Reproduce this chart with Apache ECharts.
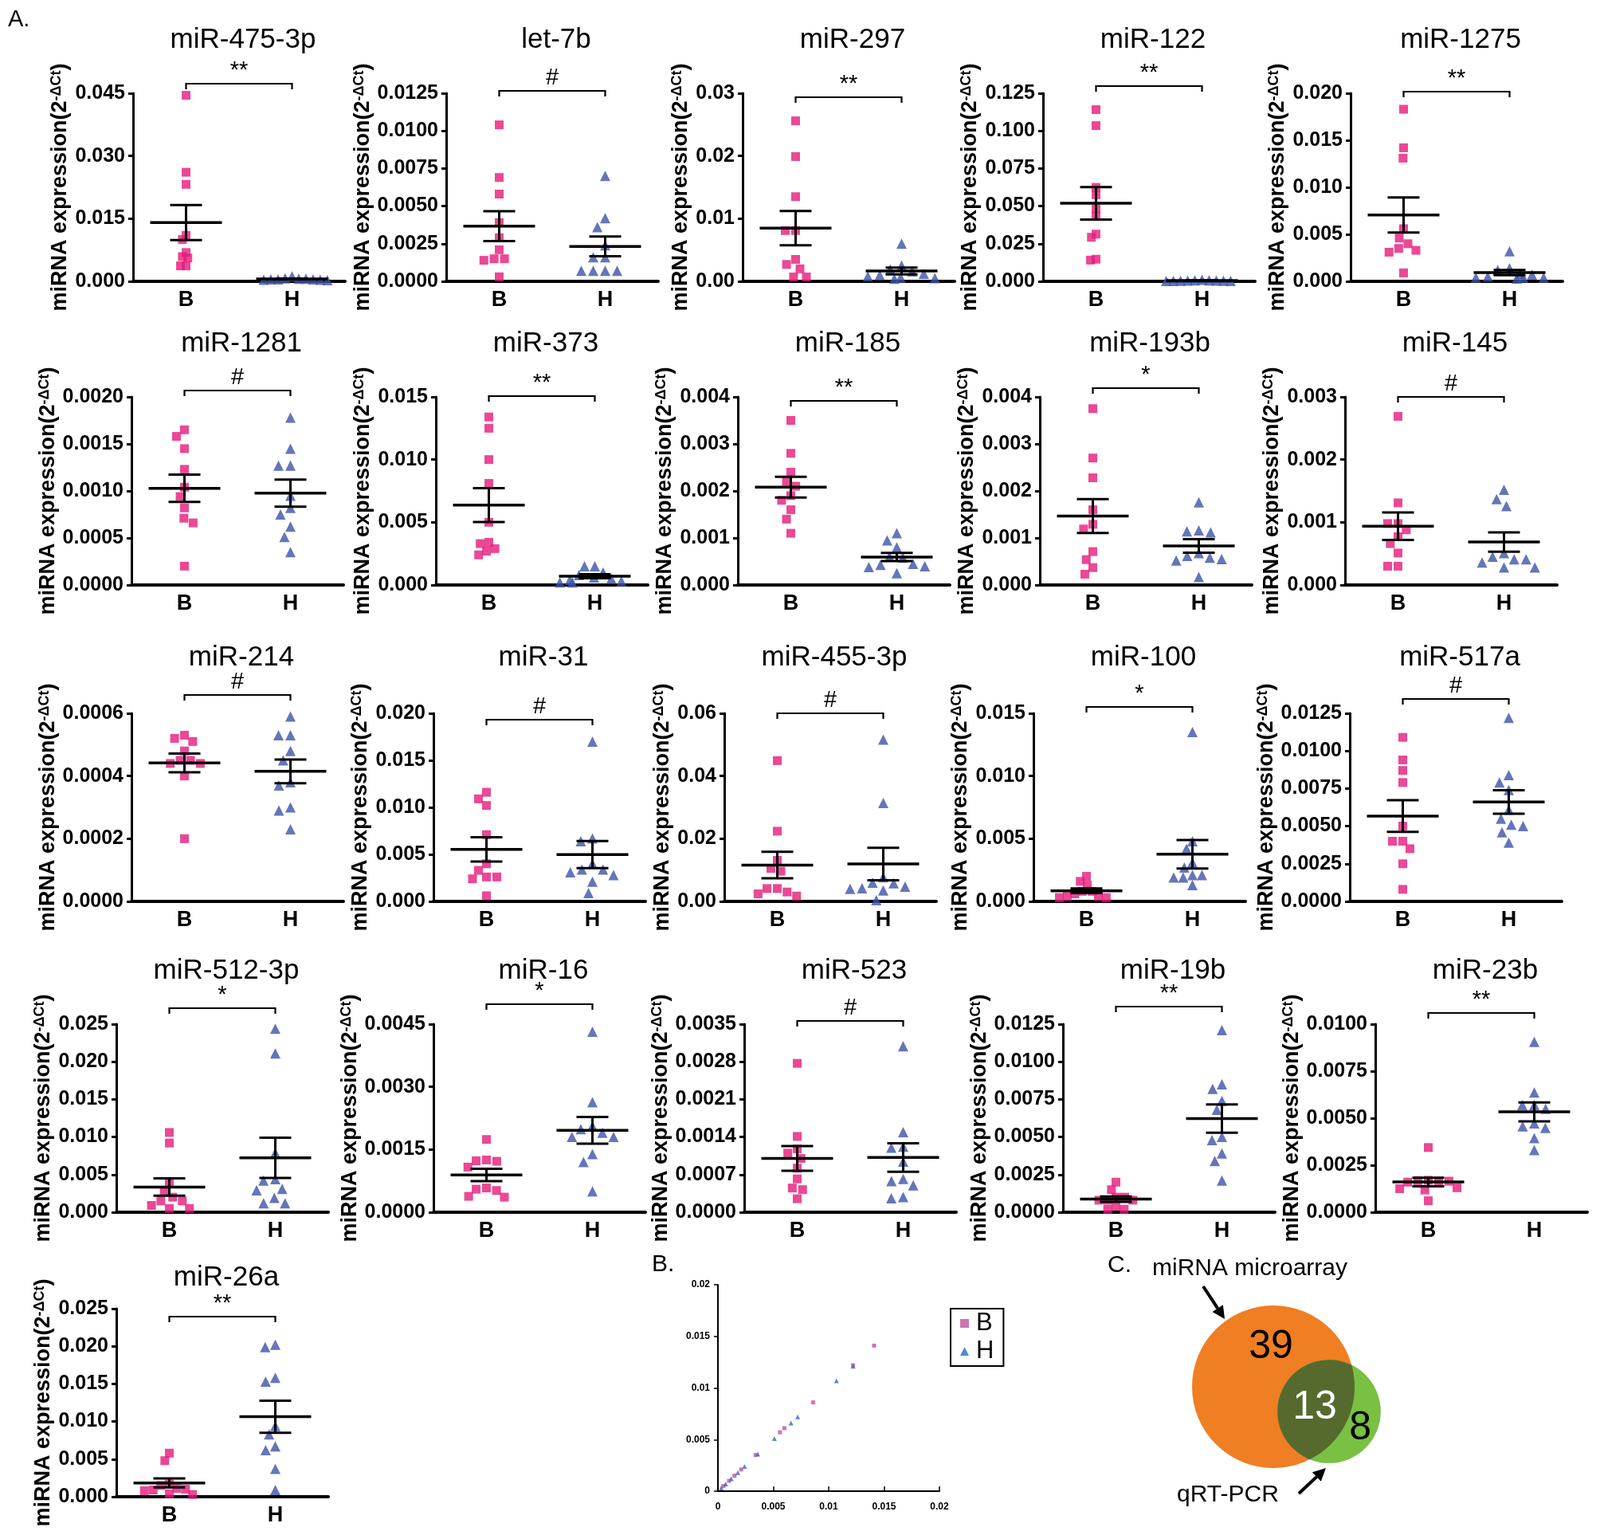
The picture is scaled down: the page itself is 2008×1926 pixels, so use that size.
<!DOCTYPE html>
<html>
<head>
<meta charset="utf-8">
<script src="https://cdn.jsdelivr.net/npm/echarts@6.0.0/dist/echarts.min.js"></script>
<style>
html, body { margin: 0; padding: 0; background: #fff; }
#container { width: 2008px; height: 1926px; }
</style>
</head>
<body>
<div id="container"></div>
<script>
// ---- data ----
const titles = ['miR-475-3p', 'let-7b', 'miR-297', 'miR-122', 'miR-1275',
    'miR-1281', 'miR-373', 'miR-185', 'miR-193b', 'miR-145',
    'miR-214', 'miR-31', 'miR-455-3p', 'miR-100', 'miR-517a',
    'miR-512-3p', 'miR-16', 'miR-523', 'miR-19b', 'miR-23b',
    'miR-26a'];
const groups = ['B', 'H'];
const signif = ['**', '#', '**', '**', '**',
    '#', '**', '**', '*', '#',
    '#', '#', '#', '*', '#',
    '*', '*', '#', '**', '**',
    '**'];
const yMax = [0.045, 0.0125, 0.03, 0.125, 0.020,
    0.0020, 0.015, 0.004, 0.004, 0.003,
    0.0006, 0.020, 0.06, 0.015, 0.0125,
    0.025, 0.0045, 0.0035, 0.0125, 0.0100,
    0.025];
const yStep = [0.015, 0.0025, 0.01, 0.025, 0.005,
    0.0005, 0.005, 0.001, 0.001, 0.001,
    0.0002, 0.005, 0.02, 0.005, 0.0025,
    0.005, 0.0015, 0.0007, 0.0025, 0.0025,
    0.005];
const yDecimals = [3, 4, 2, 3, 3,
    4, 3, 3, 3, 3,
    4, 3, 2, 3, 4,
    3, 4, 4, 4, 4,
    3];
const groupB = [
    [0.0445, 0.0261, 0.0232, 0.0110, 0.0100, 0.0069, 0.0059, 0.0056, 0.0037, 0.0037],
    [0.0104, 0.0069, 0.0058, 0.0039, 0.0029, 0.0021, 0.0015, 0.0015, 0.0014, 0.0003],
    [0.0256, 0.0199, 0.0135, 0.0081, 0.0081, 0.0035, 0.0027, 0.0020, 0.0007, 0.0007],
    [0.1141, 0.1035, 0.0624, 0.0576, 0.0482, 0.0435, 0.0314, 0.0293, 0.0147, 0.0141],
    [0.0183, 0.0142, 0.0131, 0.0056, 0.0046, 0.0040, 0.0035, 0.0033, 0.0031, 0.0009],
    [0.00165, 0.00158, 0.00145, 0.00123, 0.00104, 0.00094, 0.00082, 0.00071, 0.00066, 0.00020],
    [0.0134, 0.0125, 0.0100, 0.0081, 0.0050, 0.0034, 0.0033, 0.0029, 0.0027, 0.0024],
    [0.0035, 0.0028, 0.0024, 0.0022, 0.0021, 0.0019, 0.0018, 0.0016, 0.0014, 0.0011],
    [0.00375, 0.0027, 0.00228, 0.0016, 0.00129, 0.00119, 0.00071, 0.00054, 0.00037, 0.00023],
    [0.00269, 0.00131, 0.00098, 0.00098, 0.00088, 0.00077, 0.00066, 0.00051, 0.00030, 0.00030],
    [0.00053, 0.00052, 0.00051, 0.00048, 0.00045, 0.00045, 0.00044, 0.00044, 0.00040, 0.00020],
    [0.0116, 0.0109, 0.0102, 0.0071, 0.0040, 0.0033, 0.0026, 0.0026, 0.0024, 0.0006],
    [0.0449, 0.0224, 0.0131, 0.0105, 0.0096, 0.0041, 0.0041, 0.0030, 0.0024, 0.0017],
    [0.0020, 0.0016, 0.0013, 0.0008, 0.0008, 0.0006, 0.0004, 0.0004, 0.0003, 0.0003],
    [0.0109, 0.0094, 0.0087, 0.0079, 0.0050, 0.0040, 0.0040, 0.0035, 0.0025, 0.0008],
    [0.0106, 0.0092, 0.0040, 0.0028, 0.0020, 0.0015, 0.0015, 0.0009, 0.0005, 0.0005],
    [0.00174, 0.00125, 0.00123, 0.00122, 0.00108, 0.00058, 0.00055, 0.00052, 0.00038, 0.00036],
    [0.00277, 0.00141, 0.00118, 0.00110, 0.00100, 0.00082, 0.00062, 0.00045, 0.00042, 0.00025],
    [0.0020, 0.0015, 0.0010, 0.0010, 0.0008, 0.0008, 0.0008, 0.0004, 0.0002, 0.0002],
    [0.00344, 0.00170, 0.00168, 0.00166, 0.00165, 0.00160, 0.00130, 0.00125, 0.00118, 0.00061],
    [0.0058, 0.0048, 0.0017, 0.0015, 0.0011, 0.0010, 0.0009, 0.0008, 0.0004, 0.0003]
];
const groupH = [
    [0.0012, 0.0007, 0.0006, 0.0006, 0.0005, 0.0005, 0.0005, 0.0004, 0.0004, 0.0003],
    [0.0070, 0.0042, 0.0036, 0.0024, 0.0016, 0.0016, 0.0007, 0.0007, 0.0007, 0.0007],
    [0.0060, 0.0025, 0.0019, 0.0016, 0.0012, 0.0010, 0.0008, 0.0006, 0.0005, 0.0004],
    [0.0010, 0.0006, 0.0006, 0.0005, 0.0005, 0.0004, 0.0004, 0.0003, 0.0003, 0.0002],
    [0.0032, 0.0014, 0.0012, 0.0008, 0.0007, 0.0005, 0.0004, 0.0004, 0.0004, 0.0003],
    [0.00178, 0.00145, 0.00127, 0.00127, 0.00095, 0.00082, 0.00075, 0.00062, 0.00051, 0.00035],
    [0.0015, 0.0015, 0.0010, 0.0008, 0.0006, 0.0005, 0.0004, 0.0003, 0.0002, 0.0002],
    [0.00110, 0.00095, 0.00080, 0.00060, 0.00058, 0.00045, 0.00043, 0.00040, 0.00038, 0.00025],
    [0.00176, 0.00116, 0.00114, 0.00112, 0.00068, 0.00062, 0.00058, 0.00055, 0.00052, 0.00017],
    [0.00152, 0.00137, 0.00126, 0.00051, 0.00045, 0.00041, 0.00041, 0.00036, 0.00028, 0.00028],
    [0.00059, 0.00053, 0.00053, 0.00048, 0.00045, 0.00038, 0.00037, 0.00030, 0.00029, 0.00023],
    [0.0170, 0.0067, 0.0064, 0.0040, 0.0034, 0.0034, 0.0031, 0.0028, 0.0021, 0.0009],
    [0.0516, 0.0314, 0.0077, 0.0060, 0.0058, 0.0047, 0.0042, 0.0040, 0.0035, 0.0004],
    [0.0135, 0.0048, 0.0042, 0.0031, 0.0027, 0.0021, 0.0021, 0.0019, 0.0019, 0.0013],
    [0.0122, 0.0084, 0.0079, 0.0074, 0.0061, 0.0055, 0.0051, 0.0050, 0.0046, 0.0039],
    [0.0244, 0.0211, 0.0079, 0.0044, 0.0042, 0.0031, 0.0029, 0.0019, 0.0012, 0.0012],
    [0.00432, 0.00263, 0.00206, 0.00199, 0.00190, 0.00180, 0.00180, 0.00139, 0.00120, 0.00050],
    [0.00309, 0.00149, 0.00122, 0.00120, 0.00094, 0.00062, 0.00058, 0.00050, 0.00028, 0.00026],
    [0.0121, 0.0085, 0.0082, 0.0074, 0.0068, 0.0050, 0.0048, 0.0039, 0.0034, 0.0021],
    [0.00906, 0.00637, 0.00570, 0.00570, 0.00550, 0.00472, 0.00457, 0.00448, 0.00394, 0.00330],
    [0.0202, 0.0199, 0.0158, 0.0153, 0.0094, 0.0083, 0.0067, 0.0062, 0.0037, 0.0009]
];
// panel B: microarray vs qRT-PCR
const scatterB = [[0.0005, 0.0005], [0.0010, 0.0010], [0.0015, 0.0015], [0.0021, 0.0021], [0.0034, 0.0035],
    [0.0056, 0.0057], [0.0060, 0.0061], [0.0086, 0.0086], [0.0122, 0.0122], [0.0141, 0.0141]];
const scatterH = [[0.0003, 0.0003], [0.0007, 0.0007], [0.0012, 0.0012], [0.0018, 0.0018], [0.0024, 0.0024],
    [0.0036, 0.0036], [0.0051, 0.0051], [0.0066, 0.0066], [0.0072, 0.0072], [0.0107, 0.0107], [0.0122, 0.0121]];
const scatterTicks = [0, 0.005, 0.01, 0.015, 0.02];
// panel C: only microarray, both, only qRT-PCR
const vennCounts = [39, 13, 8];

// ---- layout ----
const panelLeft = [167, 560, 932, 1309, 1695,
    165, 547, 926, 1305, 1688,
    165, 544, 909, 1297, 1694,
    146, 544, 934, 1334, 1726,
    146];
const rowTop = [117, 498, 895, 1285, 1642];
const titleTop = [28, 409, 803, 1196, 1581];
const bracketDy = [-12, -3, 5, -9, -2, -8, -1, 5, -11, 0, -23, 8, 0, -8, -18, -20, -25, -4, -22, -14, 10];
const jitterGap = [-4, 2, 2, -4, 2, 2, 0, 2, 2, 2, 2, 2, 2, -1, 2, 2, 2, 2, 0, 2, 0];
const PW = 266, PH = 236;
const FONT = 'Liberation Sans, Arial, sans-serif';
const PINK = '#E61A7B', BLUE = '#3D52A8';

let dom = document.getElementById('container');
let myChart = echarts.init(dom);

function mean(a) { return a.reduce((s, v) => s + v, 0) / a.length; }
function sem(a) {
    const m = mean(a);
    const v = a.reduce((s, x) => s + (x - m) * (x - m), 0) / (a.length - 1);
    return Math.sqrt(v / a.length);
}

let grids = [], xAxes = [], yAxes = [], series = [], titleList = [];

titles.forEach((name, i) => {
    const row = Math.floor(i / 5);
    const left = panelLeft[i], top = rowTop[row];
    const dec = yDecimals[i];
    const labelW = 25 * (0.556 * (dec + 1) + 0.278);

    grids.push({ left: left, top: top, width: PW, height: PH });
    titleList.push({
        text: name, left: left + PW / 2, top: titleTop[row], textAlign: 'center',
        textStyle: { fontSize: 35, fontWeight: 'normal', color: '#000', fontFamily: FONT }
    });
    xAxes.push({
        gridIndex: i, type: 'category', data: groups,
        jitter: 92, jitterOverlap: false, jitterMargin: jitterGap[i],
        axisLine: { lineStyle: { color: '#000', width: 4 } },
        axisTick: { alignWithLabel: true, length: 7, lineStyle: { color: '#000', width: 3 } },
        axisLabel: { color: '#000', fontSize: 27, fontWeight: 'bold', margin: 10, fontFamily: FONT },
        splitLine: { show: false }
    });
    yAxes.push({
        gridIndex: i, type: 'value', min: 0, max: yMax[i], interval: yStep[i],
        name: '{a|miRNA expression(2}{b|-ΔCt}{a|)}',
        nameLocation: 'middle', nameRotate: 90, nameGap: labelW + 15,
        nameTextStyle: {
            rich: {
                a: { fontSize: 27, fontWeight: 'bold', color: '#000', fontFamily: FONT },
                b: { fontSize: 18, fontWeight: 'bold', color: '#000', fontFamily: FONT, verticalAlign: 'top' }
            }
        },
        axisLine: { show: true, lineStyle: { color: '#000', width: 3 } },
        axisTick: { show: true, length: 6, lineStyle: { color: '#000', width: 3 } },
        axisLabel: {
            color: '#000', fontSize: 25, fontWeight: 'bold', margin: 10, fontFamily: FONT,
            formatter: v => v.toFixed(dec)
        },
        splitLine: { show: false }
    });
    series.push({
        type: 'scatter', name: name + ' B', xAxisIndex: i, yAxisIndex: i,
        symbol: 'rect', symbolSize: 11, clip: false,
        itemStyle: { color: PINK },
        data: groupB[i].map(v => [0, v])
    });
    series.push({
        type: 'scatter', name: name + ' H', xAxisIndex: i, yAxisIndex: i,
        symbol: 'triangle', symbolSize: 13, clip: false,
        itemStyle: { color: BLUE },
        data: groupH[i].map(v => [1, v])
    });
    // mean and SEM bars
    series.push({
        type: 'custom', xAxisIndex: i, yAxisIndex: i, z: 5, silent: true, clip: false,
        data: [[0, mean(groupB[i]), sem(groupB[i])], [1, mean(groupH[i]), sem(groupH[i])]],
        renderItem: function (params, api) {
            const c = api.value(0), m = api.value(1), s = api.value(2);
            const pm = api.coord([c, m]), hi = api.coord([c, m + s]), lo = api.coord([c, Math.max(0, m - s)]);
            const st = { stroke: '#000', lineWidth: 3 };
            return {
                type: 'group', children: [
                    { type: 'line', shape: { x1: pm[0] - 45, y1: pm[1], x2: pm[0] + 45, y2: pm[1] }, style: { stroke: '#000', lineWidth: 3.5 } },
                    { type: 'line', shape: { x1: hi[0] - 20, y1: hi[1], x2: hi[0] + 20, y2: hi[1] }, style: st },
                    { type: 'line', shape: { x1: lo[0] - 20, y1: lo[1], x2: lo[0] + 20, y2: lo[1] }, style: st },
                    { type: 'line', shape: { x1: hi[0], y1: hi[1], x2: lo[0], y2: lo[1] }, style: st }
                ]
            };
        }
    });
    // significance bracket
    series.push({
        type: 'custom', xAxisIndex: i, yAxisIndex: i, silent: true, clip: false,
        data: [[0, 1, yMax[i]]],
        renderItem: function (params, api) {
            const a = api.coord([api.value(0), api.value(2)]);
            const b = api.coord([api.value(1), api.value(2)]);
            const y = a[1] + bracketDy[i];
            return {
                type: 'group', children: [
                    { type: 'polyline', shape: { points: [[a[0], y + 7], [a[0], y], [b[0], y], [b[0], y + 7]] }, style: { stroke: '#000', lineWidth: 2.2, fill: null } },
                    { type: 'text', style: { text: signif[i], x: (a[0] + b[0]) / 2, y: y - 2, align: 'center', verticalAlign: 'bottom', fontSize: 29, fontFamily: FONT, fill: '#000' } }
                ]
            };
        }
    });
});

// ---- panel B scatter ----
const bi = titles.length;
grids.push({ left: 901, top: 1612, width: 278, height: 259 });
const smallAxis = {
    type: 'value', min: 0, max: 0.02, interval: 0.005,
    axisLine: { show: true, lineStyle: { color: '#000', width: 2 } },
    axisLabel: {
        color: '#000', fontSize: 12, fontWeight: 'bold', fontFamily: FONT,
        formatter: v => scatterTicks.indexOf(+v.toFixed(3)) >= 0 ? String(+v.toFixed(3)) : ''
    },
    splitLine: { show: false }
};
xAxes.push(Object.assign({}, smallAxis, {
    gridIndex: bi, axisTick: { show: true, inside: true, length: 6, lineStyle: { color: '#000', width: 1.5 } },
    axisLabel: Object.assign({}, smallAxis.axisLabel, { margin: 14 })
}));
yAxes.push(Object.assign({}, smallAxis, {
    gridIndex: bi, axisTick: { show: true, length: 5, lineStyle: { color: '#000', width: 1.5 } },
    axisLabel: Object.assign({}, smallAxis.axisLabel, { margin: 10 })
}));
series.push({
    type: 'scatter', name: 'B', xAxisIndex: bi, yAxisIndex: bi, symbol: 'rect', symbolSize: 5,
    itemStyle: { color: '#C4509E' }, data: scatterB
});
series.push({
    type: 'scatter', name: 'H', xAxisIndex: bi, yAxisIndex: bi, symbol: 'triangle', symbolSize: 6,
    itemStyle: { color: '#2F6CC0' }, data: scatterH
});

// ---- panel C venn ----
function arcInside(c, r, p, q, o, ro, pts) {
    const a0 = Math.atan2(p[1] - c[1], p[0] - c[0]);
    const a1 = Math.atan2(q[1] - c[1], q[0] - c[0]);
    let sweep = a1 - a0;
    while (sweep <= 0) sweep += 2 * Math.PI;
    const mid = a0 + sweep / 2;
    if (Math.hypot(c[0] + r * Math.cos(mid) - o[0], c[1] + r * Math.sin(mid) - o[1]) > ro) sweep -= 2 * Math.PI;
    for (let k = 0; k <= 48; k++) {
        const t = a0 + sweep * k / 48;
        pts.push([c[0] + r * Math.cos(t), c[1] + r * Math.sin(t)]);
    }
}
const vennA = [1598, 1740], vennB = [1668, 1771];
series.push({
    type: 'custom', coordinateSystem: 'none', silent: true,
    data: [vennCounts],
    renderItem: function (params, api) {
        const onlyA = api.value(0), both = api.value(1), onlyB = api.value(2);
        const k = 102 / Math.sqrt(onlyA + both);
        const r1 = k * Math.sqrt(onlyA + both), r2 = k * Math.sqrt(onlyB + both);
        const c1 = vennA, c2 = vennB;
        const dx = c2[0] - c1[0], dy = c2[1] - c1[1], d = Math.hypot(dx, dy);
        const ux = dx / d, uy = dy / d;
        const a = (r1 * r1 - r2 * r2 + d * d) / (2 * d), h = Math.sqrt(r1 * r1 - a * a);
        const px = c1[0] + a * ux, py = c1[1] + a * uy;
        const i1 = [px - h * uy, py + h * ux], i2 = [px + h * uy, py - h * ux];
        const lens = [];
        arcInside(c2, r2, i1, i2, c1, r1, lens);
        arcInside(c1, r1, i2, i1, c2, r2, lens);
        const lensMid = [(c1[0] + r1 * ux + c2[0] - r2 * ux) / 2, (c1[1] + r1 * uy + c2[1] - r2 * uy) / 2];
        const bMid = [(c1[0] + r1 * ux + c2[0] + r2 * ux) / 2, (c1[1] + r1 * uy + c2[1] + r2 * uy) / 2];
        const num = (t, x, y, color) => ({
            type: 'text', z2: 10,
            style: { text: String(t), x: x, y: y, align: 'center', verticalAlign: 'middle', fontSize: 50, fontFamily: FONT, fill: color }
        });
        return {
            type: 'group', children: [
                { type: 'circle', shape: { cx: c1[0], cy: c1[1], r: r1 }, style: { fill: '#F07E22' } },
                { type: 'circle', shape: { cx: c2[0], cy: c2[1], r: r2 }, style: { fill: '#79C043' } },
                { type: 'polygon', shape: { points: lens }, style: { fill: '#566A2E' } },
                num(onlyA, c1[0] - 3, c1[1] - 50, '#000'),
                num(both, lensMid[0], lensMid[1] + 3, '#fff'),
                num(onlyB, bMid[0] - 2, bMid[1] + 3, '#000')
            ]
        };
    }
});

function arrow(x0, y0, x1, y1) {
    const ang = Math.atan2(y1 - y0, x1 - x0), L = 16, W = 8;
    const bx = x1 - L * Math.cos(ang), by = y1 - L * Math.sin(ang);
    return [
        { type: 'line', shape: { x1: x0, y1: y0, x2: bx, y2: by }, style: { stroke: '#000', lineWidth: 4 } },
        { type: 'polygon', shape: { points: [[x1, y1], [bx - W * Math.sin(ang), by + W * Math.cos(ang)], [bx + W * Math.sin(ang), by - W * Math.cos(ang)]] }, style: { fill: '#000' } }
    ];
}
function label(text, x, y, size) {
    return { type: 'text', x: x, y: y, style: { text: text, fontSize: size, fontFamily: FONT, fill: '#000', verticalAlign: 'middle' } };
}

let option = {
    backgroundColor: '#fff',
    animation: false,
    title: titleList,
    grid: grids,
    xAxis: xAxes,
    yAxis: yAxes,
    legend: {
        data: [{ name: 'B', icon: 'rect' }, { name: 'H', icon: 'triangle' }],
        orient: 'vertical', left: 1193, top: 1642,
        itemWidth: 11, itemHeight: 11, itemGap: 4,
        padding: [3, 12, 3, 12],
        borderColor: '#000', borderWidth: 2, borderRadius: 0,
        selectedMode: false,
        textStyle: { fontSize: 31, color: '#000', fontFamily: FONT, padding: [0, 0, 0, 4] }
    },
    graphic: [
        label('A.', 10, 25, 29),
        label('B.', 818, 1587, 30),
        label('C.', 1390, 1588, 30),
        label('miRNA microarray', 1446, 1592, 30),
        label('qRT-PCR', 1477, 1876, 30)
    ].concat(arrow(1510, 1614, 1537, 1655), arrow(1630, 1874, 1664, 1842)),
    series: series
};
myChart.setOption(option);
</script>
</body>
</html>
